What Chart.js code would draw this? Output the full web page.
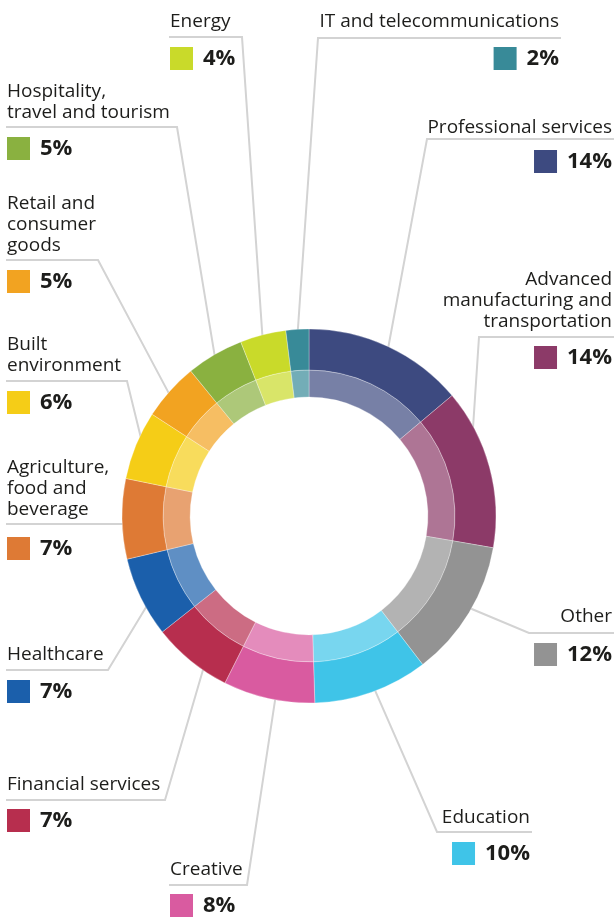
<!DOCTYPE html>
<html>
<head>
<meta charset="utf-8">
<script src="https://cdn.jsdelivr.net/npm/chart.js@4"></script>
<style>
  body { margin: 0; background: #fff; }
  #wrap { position: relative; width: 614px; height: 917px; }
</style>
</head>
<body>
<div id="wrap"><canvas id="sectors"></canvas></div>
<script>
// sector shares, clockwise from 12 o'clock
const categories = [
  ['Professional services'],
  ['Advanced', 'manufacturing and', 'transportation'],
  ['Other'],
  ['Education'],
  ['Creative'],
  ['Financial services'],
  ['Healthcare'],
  ['Agriculture,', 'food and', 'beverage'],
  ['Built', 'environment'],
  ['Retail and', 'consumer', 'goods'],
  ['Hospitality,', 'travel and tourism'],
  ['Energy'],
  ['IT and telecommunications']
];
const shares = [14, 14, 12, 10, 8, 7, 7, 7, 6, 5, 5, 4, 2];
const sliceColors = [
  '#3d4a80', '#8c3a68', '#939393', '#3fc4e8', '#d95ba0', '#b72e4e', '#1b5fab',
  '#de7a35', '#f5cd17', '#f2a321', '#8ab140', '#c9da2a', '#388a98'
];

// where each label block sits and where its leader meets the ring
const labelLayout = [
  { side: 'right', x: 612, y: 133, lineY: 139, corner: 427, boxY: 150, at: 0.51 },
  { side: 'right', x: 612, y: 285, lineY: 337, corner: 479, boxY: 346, at: 0.27 },
  { side: 'right', x: 612, y: 622, lineY: 633, corner: 529, boxY: 643, at: 0.47 },
  { side: 'right', x: 530, y: 823, lineY: 832, corner: 437, boxY: 842, at: 0.47 },
  { side: 'left', x: 170, y: 875, lineY: 885, corner: 247, boxY: 894, at: 0.43 },
  { side: 'left', x: 7, y: 790, lineY: 800, corner: 165, boxY: 809, at: 0.33 },
  { side: 'left', x: 7, y: 660, lineY: 670, corner: 108, boxY: 680, at: 0.39 },
  { side: 'left', x: 7, y: 473, lineY: 524, corner: 123, boxY: 537, at: 0.43 },
  { side: 'left', x: 7, y: 350, lineY: 381, corner: 127, boxY: 391, at: 0.58 },
  { side: 'left', x: 7, y: 209, lineY: 260, corner: 98, boxY: 270, at: 0.44 },
  { side: 'left', x: 7, y: 97, lineY: 127, corner: 177, boxY: 137, at: 0.47 },
  { side: 'left', x: 170, y: 27, lineY: 37, corner: 242, boxY: 47, at: 0.47 },
  { side: 'right', x: 559, y: 27, lineY: 38, corner: 318, boxY: 47, at: 0.5 }
];

function fade(hex, a) {
  const n = parseInt(hex.slice(1), 16);
  return `rgba(${n >> 16},${(n >> 8) & 255},${n & 255},${a})`;
}

const leaderLines = {
  id: 'leaderLines',
  beforeDatasetsDraw(chart) {
    const ctx = chart.ctx;
    const arcs = chart.getDatasetMeta(0).data;
    ctx.save();
    ctx.strokeStyle = '#d3d3d3';
    ctx.lineWidth = 2;
    ctx.lineJoin = 'miter';
    labelLayout.forEach((lay, i) => {
      const arc = arcs[i];
      const p = arc.getProps(['x', 'y', 'startAngle', 'endAngle', 'outerRadius'], true);
      const a = p.startAngle + (p.endAngle - p.startAngle) * lay.at;
      const ex = p.x + Math.cos(a) * (p.outerRadius - 4);
      const ey = p.y + Math.sin(a) * (p.outerRadius - 4);
      const far = lay.side === 'left' ? lay.x - 1 : lay.x + 2;
      ctx.beginPath();
      ctx.moveTo(far, lay.lineY);
      ctx.lineTo(lay.corner, lay.lineY);
      ctx.lineTo(ex, ey);
      ctx.stroke();
    });
    ctx.restore();
  },
  afterDraw(chart) {
    const ctx = chart.ctx;
    ctx.save();
    labelLayout.forEach((lay, i) => {
      const lines = categories[i];
      ctx.fillStyle = '#1d1d1b';
      ctx.font = '19px "Open Sans"';
      ctx.textBaseline = 'alphabetic';
      ctx.textAlign = lay.side === 'left' ? 'left' : 'right';
      lines.forEach((t, k) => ctx.fillText(t, lay.x, lay.y + k * 21));

      const pct = shares[i] + '%';
      ctx.font = 'bold 22px "Open Sans"';
      const w = ctx.measureText(pct).width;
      ctx.textBaseline = 'middle';
      let boxX;
      if (lay.side === 'left') {
        boxX = lay.x;
        ctx.textAlign = 'left';
        ctx.fillText(pct, boxX + 33, lay.boxY + 12);
      } else {
        boxX = lay.x - w - 10 - 23;
        ctx.textAlign = 'right';
        ctx.fillText(pct, lay.x, lay.boxY + 12);
      }
      ctx.fillStyle = sliceColors[i];
      ctx.fillRect(boxX, lay.boxY, 23, 23);
    });
    ctx.restore();
  }
};

new Chart(document.getElementById('sectors'), {
  type: 'doughnut',
  data: {
    labels: categories,
    datasets: [
      {
        data: shares,
        backgroundColor: sliceColors,
        borderColor: 'rgba(255,255,255,0.5)',
        borderWidth: 0.6,
        weight: 41
      },
      {
        data: shares,
        backgroundColor: sliceColors.map(c => fade(c, 0.7)),
        borderColor: 'rgba(255,255,255,0.5)',
        borderWidth: 0.6,
        weight: 27
      }
    ]
  },
  options: {
    responsive: true,
    maintainAspectRatio: false,
    animation: false,
    radius: 187,
    cutout: '63.6%',
    hoverOffset: 0,
    layout: { padding: { left: 122, right: 118, top: 329, bottom: 214 } },
    plugins: {
      legend: { display: false },
      tooltip: { enabled: false }
    },
    events: []
  },
  plugins: [leaderLines]
});
</script>
</body>
</html>
